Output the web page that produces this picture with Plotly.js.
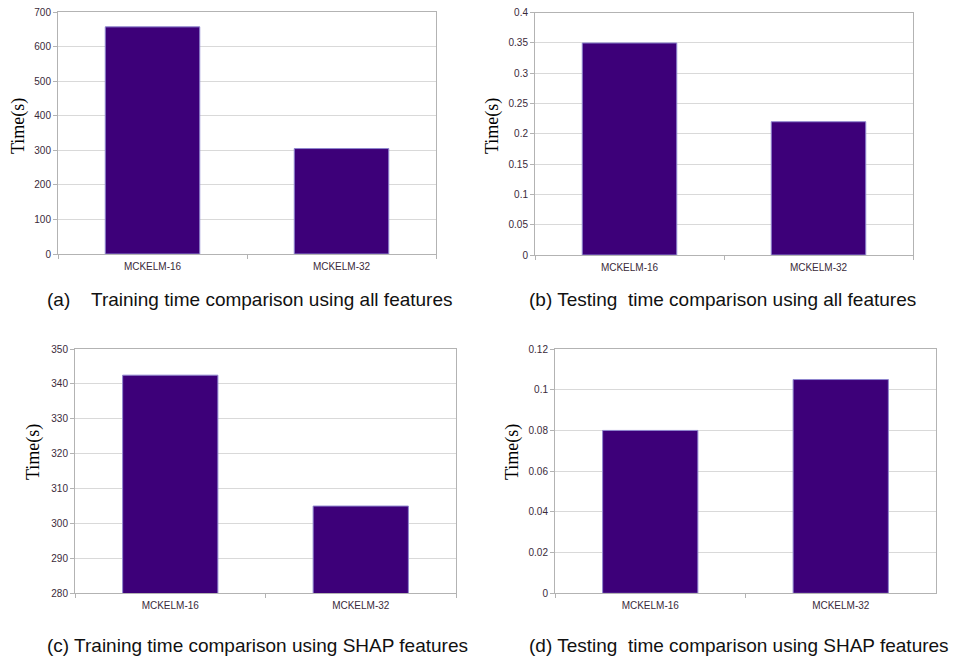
<!DOCTYPE html>
<html>
<head>
<meta charset="utf-8">
<script src="https://cdn.plot.ly/plotly-3.0.1.min.js"></script>
<style>
html,body{margin:0;padding:0;background:#fff;}
#chart{width:953px;height:658px;}
</style>
</head>
<body>
<div id="chart"></div>
<script>
const categories = ["MCKELM-16", "MCKELM-32"];
const trainAll = [657, 305];
const testAll = [0.35, 0.22];
const trainShap = [342.5, 305];
const testShap = [0.08, 0.105];

const yTicksA = [0, 100, 200, 300, 400, 500, 600, 700];
const yTicksB = [0, 0.05, 0.1, 0.15, 0.2, 0.25, 0.3, 0.35, 0.4];
const yTicksC = [280, 290, 300, 310, 320, 330, 340, 350];
const yTicksD = [0, 0.02, 0.04, 0.06, 0.08, 0.1, 0.12];

const captions = [
  "(a)    Training time comparison using all features",
  "(b) Testing  time comparison using all features",
  "(c) Training time comparison using SHAP features",
  "(d) Testing  time comparison using SHAP features"
];
const yTitle = "Time(s)";

const W = 953, H = 658;
const barColor = "#3d0079";
const fx = p => p / W;
const fy = p => 1 - p / H;
const tickFont = {family: "Liberation Sans, Arial, sans-serif", size: 10, color: "#3a2a3a"};

function bar(vals, xa, ya) {
  return {
    type: "bar", x: categories, y: vals, xaxis: xa, yaxis: ya,
    marker: {color: barColor, line: {color: "#8f86cf", width: 1}},
    width: 0.5, hoverinfo: "x+y", showlegend: false
  };
}

const data = [
  bar(trainAll, "x", "y"),
  bar(testAll, "x2", "y2"),
  bar(trainShap, "x3", "y3"),
  bar(testShap, "x4", "y4")
];

function xax(x0, x1, anchor) {
  return {
    domain: [fx(x0), fx(x1)], anchor: anchor, type: "category",
    tickson: "boundaries", ticks: "outside", ticklen: 4, tickcolor: "#b3b3b3",
    ticklabelstandoff: 3,
    showline: true, linecolor: "#b3b3b3", linewidth: 1, mirror: true,
    showgrid: false, tickfont: tickFont,
    fixedrange: true, automargin: false
  };
}
function yax(y0, y1, anchor, range, tickvals) {
  return {
    domain: [fy(y1), fy(y0)], anchor: anchor, range: range,
    tickvals: tickvals, ticktext: tickvals.map(v => String(v)),
    ticks: "outside", ticklen: 4, tickcolor: "#b3b3b3",
    showline: true, linecolor: "#b3b3b3", linewidth: 1, mirror: true,
    showgrid: true, gridcolor: "#d9d9d9", gridwidth: 1, zeroline: false,
    tickfont: tickFont,
    fixedrange: true, automargin: false
  };
}

const layout = {
  width: W, height: H,
  margin: {l: 0, r: 0, t: 0, b: 0},
  paper_bgcolor: "#fff", plot_bgcolor: "#fff",
  bargap: 0.5,
  xaxis: xax(58, 436, "y"),
  yaxis: yax(12, 254, "x", [0, 700], yTicksA),
  xaxis2: xax(535, 913, "y2"),
  yaxis2: yax(12.7, 255, "x2", [0, 0.4], yTicksB),
  xaxis3: xax(75, 456, "y3"),
  yaxis3: yax(349, 593.3, "x3", [280, 350], yTicksC),
  xaxis4: xax(555, 936, "y4"),
  yaxis4: yax(349, 593.3, "x4", [0, 0.12], yTicksD),
  annotations: []
};

const capFont = {family: "Liberation Sans, Arial, sans-serif", size: 19, color: "#111"};
const capPos = [[45, 299], [527, 299], [45, 645], [527, 645]];
captions.forEach((t, i) => {
  layout.annotations.push({
    text: t, xref: "paper", yref: "paper", x: fx(capPos[i][0]), y: fy(capPos[i][1]),
    xanchor: "left", yanchor: "middle", showarrow: false, font: capFont
  });
});

const titlePos = [[19, 126], [493, 126], [33, 452], [512, 452]];
titlePos.forEach(p => {
  layout.annotations.push({
    text: yTitle, xref: "paper", yref: "paper", x: fx(p[0]), y: fy(p[1]),
    xanchor: "center", yanchor: "middle", textangle: -90, showarrow: false,
    font: {family: "Liberation Serif, Times New Roman, serif", size: 18, color: "#000"}
  });
});

Plotly.newPlot("chart", data, layout, {displayModeBar: false, staticPlot: true});
</script>
</body>
</html>
